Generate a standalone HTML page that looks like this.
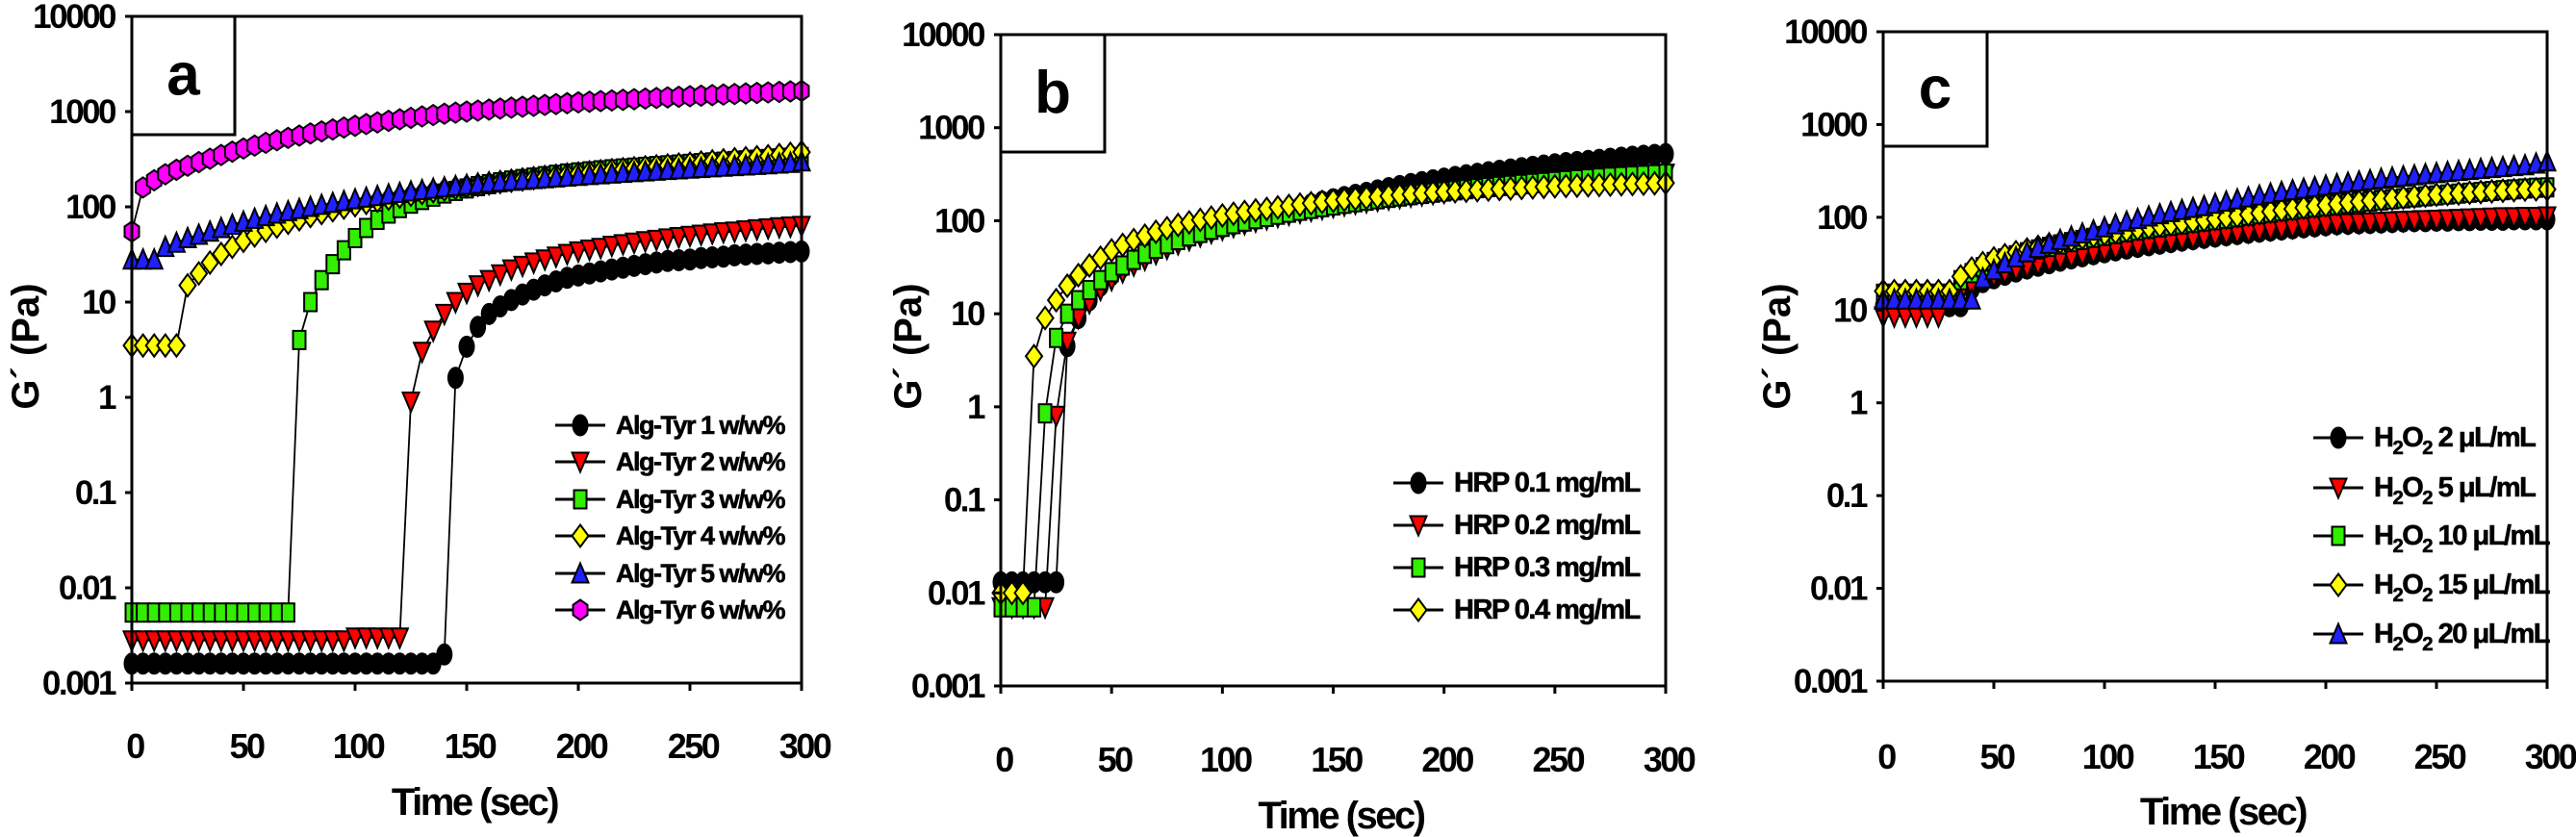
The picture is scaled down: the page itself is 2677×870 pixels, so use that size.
<!DOCTYPE html>
<html><head><meta charset="utf-8"><title>G' vs time</title>
<style>
html,body{margin:0;padding:0;background:#fff;}
svg{display:block;}
text{font-family:"Liberation Sans Narrow","Liberation Sans",sans-serif;font-weight:bold;fill:#000;}
</style></head>
<body>
<svg id="fig" width="2677" height="870" viewBox="0 0 2677 870" xmlns="http://www.w3.org/2000/svg"></svg>
<script>
// ---- shared data ----
const times = [];
for (let t = 0; t <= 300; t += 5) times.push(t);
const xTicks = [0, 50, 100, 150, 200, 250, 300];
const yTicks = [0.001, 0.01, 0.1, 1, 10, 100, 1000, 10000];
const yTickLabels = ["0.001", "0.01", "0.1", "1", "10", "100", "1000", "10000"];

// ---- panel a ----
const aLabels = ["Alg-Tyr 1 w/w%", "Alg-Tyr 2 w/w%", "Alg-Tyr 3 w/w%", "Alg-Tyr 4 w/w%", "Alg-Tyr 5 w/w%", "Alg-Tyr 6 w/w%"];
const aS1 = [0.0016,0.0016,0.0016,0.0016,0.0016,0.0016,0.0016,0.0016,0.0016,0.0016,0.0016,0.0016,0.0016,0.0016,0.0016,0.0016,0.0016,0.0016,0.0016,0.0016,0.0016,0.0016,0.0016,0.0016,0.0016,0.0016,0.0016,0.0016,
 0.002,1.6,3.4,5.5,7.5,9,10.5,12,13.5,15,16.5,18,19,20,21,22,23,24,25,26,27,27.5,28,29,29.5,30,31,31.5,32,32.5,33,33.5,34];
const aS2 = [0.0028,0.0028,0.0028,0.0028,0.0028,0.0028,0.0028,0.0028,0.0028,0.0028,0.0028,0.0028,0.0028,0.0028,0.0028,0.0028,0.0028,0.0028,0.0028,0.0028,
 0.003,0.003,0.003,0.003,0.003,
 0.9,3,5,7.5,10,12.5,15,17,19.5,22,24,26,28,30,32,34,35.5,37,39,40.5,42,43.5,45,46.5,48,49.5,51,52.5,54,55,56.5,58,59.5,61,62,63];
const aS3 = [0.0055,0.0055,0.0055,0.0055,0.0055,0.0055,0.0055,0.0055,0.0055,0.0055,0.0055,0.0055,0.0055,0.0055,0.0055,
 4,10,17,25,35,47,60,73,85,97,108,118,128,138,147,156,165,173,181,189,196,203,210,217,224,230,236,242,248,253,258,263,268,273,278,283,288,293,298,303,308,313,318,323,328,333];
const aS4 = [3.5,3.5,3.5,3.5,3.5,
 15,20,26,32,38,44,50,56,62,68,74,80,86,92,98,104,
 110,116,122,128,134,140,146,152,158,164,170,176,182,188,194,200,206,212,218,224,230,236,242,248,254,260,266,272,278,284,292,300,308,316,324,332,340,350,360,375];
const aS5 = [28,28,28,
 38,42,47,51,55,60,65,70,75,80,85,90,95,100,105,110,115,120,
 125,130,135,140,145,150,155,160,165,170,175,180,184,188,192,196,200,204,208,212,216,220,224,228,232,236,240,244,248,252,256,260,264,268,272,276,280,285,290,300];
const aS6 = [55,160,190,220,245,270,295,320,350,380,410,
 440,470,500,530,560,590,620,650,680,710,740,770,800,830,860,890,920,950,975,1000,1025,1050,1075,1100,1125,1150,1175,1200,1225,1250,1270,1290,1310,1330,1350,1370,1390,1410,1430,1450,1470,1490,1510,1530,1550,1570,1590,1610,1630,1650];

// ---- panel b ----
const bLabels = ["HRP 0.1 mg/mL", "HRP 0.2 mg/mL", "HRP 0.3 mg/mL", "HRP 0.4 mg/mL"];
const bS1 = [0.013,0.013,0.013,0.013,0.013,0.013, 4.5,9,14,20,26,
 32,38,44,50,56,62,68,74,80,86,92,98,106,114,122,130,140,150,160,170,180,190,200,212,224,236,248,260,272,284,296,308,320,332,344,356,368,380,392,404,416,428,440,452,464,476,488,500,510,520];
const bS2 = [0.007,0.007,0.007,0.007,0.007, 0.8,5,9,13,18,23,
 28,33,38,44,50,56,62,68,74,80,86,92,98,104,110,116,122,128,134,140,146,152,158,164,170,176,182,188,194,200,206,212,218,224,230,236,242,248,254,260,266,272,278,284,290,296,302,308,314,320];
const bS3 = [0.007,0.007,0.007,0.007, 0.85,5.5,10,14,18,23,28,
 33,38,44,50,56,62,68,74,80,86,92,98,104,110,116,122,128,134,140,146,152,158,164,170,176,182,188,194,200,206,212,218,224,230,236,242,248,254,260,266,272,278,284,290,296,300,305,310,315,320];
const bS4 = [0.01,0.01,0.01, 3.5,9,14,20,26,33,40,48,
 55,62,69,76,83,90,96,102,108,114,119,124,129,134,139,144,149,154,159,164,168,172,176,180,184,188,192,196,200,204,207,210,213,216,219,222,225,228,231,234,236,238,240,242,244,246,248,250,252,255];

// ---- panel c ----
const cLabels = ["2", "5", "10", "15", "20"];
const cS1 = [11,11,11,11,11,11,11,11, 17,20,22,
 24,26,28,30,32,34,36,38,40,42,44,46,48,50,52,54,56,58,60,62,64,66,68,70,72,74,76,78,80,82,84,85,86,87,88,89,90,91,91,92,92,93,93,94,94,94,95,95,95,95];
const cS2 = [8.5,8.5,8.5,8.5,8.5,8.5, 12,15,18,21,23,
 25,27,29,31,33,35,37,39,41,43,45,47,49,51,53,55,57,59,61,63,65,67,69,71,73,75,77,79,81,83,85,86,87,88,89,90,91,92,93,94,95,96,97,98,99,100,100,101,101,102];
const cS3 = [15,15,15,15,15,15,15, 21,25,29,33,
 36,39,42,45,48,51,54,57,60,63,66,69,72,75,78,81,84,87,90,93,96,100,104,108,112,116,120,124,128,132,136,140,144,148,152,156,160,164,168,172,176,180,184,188,192,196,200,204,208,210];
const cS4 = [16,16,16,16,16,16,16, 23,28,32,36,
 39,42,45,48,51,54,57,60,63,66,69,72,75,78,81,84,87,90,93,96,99,103,107,111,115,119,123,127,131,135,139,143,147,151,155,159,163,167,171,175,178,181,184,187,190,193,196,199,200,200];
const cS5 = [13,13,13,13,13,13,13,13,13, 22,27,
 32,37,42,47,52,57,62,67,72,78,84,90,96,102,108,114,120,126,132,140,148,156,164,172,180,188,196,204,212,220,228,236,244,252,260,268,276,284,292,300,308,316,324,332,340,348,356,364,380,400];

const styles = [
  {shape:"circle", fill:"#000000"},
  {shape:"tdown", fill:"#ff0000"},
  {shape:"square", fill:"#33ee00"},
  {shape:"diamond", fill:"#ffff00"},
  {shape:"tup", fill:"#2020ff"},
  {shape:"hex", fill:"#ff00ff"}
];

const NS = "http://www.w3.org/2000/svg";
const svg = document.getElementById("fig");
function mk(tag, attrs, parent) {
  const e = document.createElementNS(NS, tag);
  for (const k in attrs) e.setAttribute(k, attrs[k]);
  (parent || svg).appendChild(e);
  return e;
}
function marker(g, st, x, y) {
  const sw = 2, w = 7.5, h = 10.5;
  let e;
  if (st.shape === "circle") e = mk("ellipse", {cx:x, cy:y, rx:w, ry:h}, g);
  else if (st.shape === "square") e = mk("rect", {x:x-w+1, y:y-h+1, width:2*w-2, height:2*h-2}, g);
  else if (st.shape === "diamond") e = mk("polygon", {points:`${x},${y-h-1} ${x+w+1},${y} ${x},${y+h+1} ${x-w-1},${y}`}, g);
  else if (st.shape === "tdown") e = mk("polygon", {points:`${x-w-1},${y-h+1} ${x+w+1},${y-h+1} ${x},${y+h}`}, g);
  else if (st.shape === "tup") e = mk("polygon", {points:`${x-w-1},${y+h-1} ${x+w+1},${y+h-1} ${x},${y-h}`}, g);
  else e = mk("polygon", {points:`${x-w},${y-h/2} ${x},${y-h} ${x+w},${y-h/2} ${x+w},${y+h/2} ${x},${y+h} ${x-w},${y+h/2}`}, g);
  e.setAttribute("fill", st.fill);
  e.setAttribute("stroke", "#000");
  e.setAttribute("stroke-width", sw);
  
  
  return e;
}

function panel(p) {
  const g = mk("g", {});
  
  
  const X = t => p.x0 + (t / 300) * (p.x1 - p.x0);
  const Y = v => p.y1 - (Math.log10(v) + 3) / 7 * (p.y1 - p.y0);
  p.series.forEach((vals, si) => {
    const sg = mk("g", {}, g);
    
    
    const pts = vals.map((v, i) => X(times[i]).toFixed(1) + "," + Y(v).toFixed(1)).join(" ");
    const ln = mk("polyline", {points:pts, fill:"none", stroke:"#000", "stroke-width":1.8}, sg);
    
    
    vals.forEach((v, i) => marker(sg, styles[p.styleIdx[si]], X(times[i]), Y(v)));
  });
  const fr = mk("rect", {x:p.x0, y:p.y0, width:p.x1-p.x0, height:p.y1-p.y0, fill:"none", stroke:"#000", "stroke-width":3}, g);
  
  
  yTicks.forEach((v, i) => {
    const y = Y(v);
    const tk = mk("line", {x1:p.x0-7, x2:p.x0, y1:y, y2:y, stroke:"#000", "stroke-width":3}, g);
    
    
    const tx = mk("text", {x:p.x0-18, y:y+12, "text-anchor":"end", "font-size":35, "letter-spacing":-2.5}, g);
    tx.textContent = yTickLabels[i];
    
    
  });
  xTicks.forEach(t => {
    const x = X(t);
    const tk = mk("line", {x1:x, x2:x, y1:p.y1, y2:p.y1+8, stroke:"#000", "stroke-width":3}, g);
    
    
    const tx = mk("text", {x:x+3, y:p.xlabY+13, "text-anchor":"middle", "font-size":36, "letter-spacing":-2.5}, g);
    tx.textContent = String(t);
    
    
  });
  const xt = mk("text", {x:(p.x0+p.x1)/2+8, y:p.xtitleY+14, "text-anchor":"middle", "font-size":40, "letter-spacing":-2.5}, g);
  xt.textContent = "Time (sec)";
  
  
  const yt = mk("text", {x:0, y:0, "text-anchor":"middle", "font-size":40, fill:"#1a1008", transform:`translate(${p.ytitleX+14},360) rotate(-90)`}, g);
  yt.textContent = "G´ (Pa)";
  
  
  const lb = mk("rect", {x:p.x0, y:p.y0, width:p.boxW, height:p.boxH, fill:"#fff", stroke:"#000", "stroke-width":3}, g);
  
  
  const lt = mk("text", {x:p.x0+p.boxW/2, y:p.y0+p.boxH/2+20, "text-anchor":"middle", "font-size":62, "font-family":"Liberation Sans, sans-serif"}, g);
  lt.textContent = p.id;
  
  
  p.legendRows.forEach((ly, i) => {
    const lg = mk("g", {}, g);
    
    
    const l = mk("line", {x1:p.legX-26, x2:p.legX+26, y1:ly, y2:ly, stroke:"#000", "stroke-width":3}, lg);
    
    
    marker(lg, styles[p.styleIdx[i]], p.legX, ly);
    const t = mk("text", {x:p.legX+37, y:ly+9, "font-size":p.legFont, "letter-spacing":-1.5, "font-weight":"normal", "stroke":"#000", "stroke-width":0.6}, lg);
    
    
    if (p.h2o2) {
      const a = mk("tspan", {}, t); a.textContent = "H";
      const b = mk("tspan", {dy:8, "font-size":p.legFont*0.7}, t); b.textContent = "2";
      const c = mk("tspan", {dy:-8}, t); c.textContent = "O";
      const d = mk("tspan", {dy:8, "font-size":p.legFont*0.7}, t); d.textContent = "2";
      const e = mk("tspan", {dy:-8}, t); e.textContent = " " + p.labels[i] + " μL/mL";
    } else {
      t.textContent = p.labels[i];
    }
  });
}

panel({id:"a", x0:137, x1:833, y0:17, y1:710, xlabY:775, xtitleY:833, ytitleX:26,
  boxW:107, boxH:123, series:[aS1,aS2,aS3,aS4,aS5,aS6], styleIdx:[0,1,2,3,4,5],
  labels:aLabels, legendRows:[442,480,519,557,596,634], legX:603, legFont:27});
panel({id:"b", x0:1040, x1:1731, y0:36, y1:713, xlabY:789, xtitleY:847, ytitleX:943,
  boxW:108, boxH:122, series:[bS1,bS2,bS3,bS4], styleIdx:[0,1,2,3],
  labels:bLabels, legendRows:[502,546,590,634], legX:1474, legFont:29});
panel({id:"c", x0:1957, x1:2647, y0:33, y1:708, xlabY:786, xtitleY:843, ytitleX:1846,
  boxW:108, boxH:119, series:[cS1,cS2,cS3,cS4,cS5], styleIdx:[0,1,2,3,4],
  labels:cLabels, legendRows:[455,507,557,608,659], legX:2430, legFont:29, h2o2:true});
</script>
</body></html>
